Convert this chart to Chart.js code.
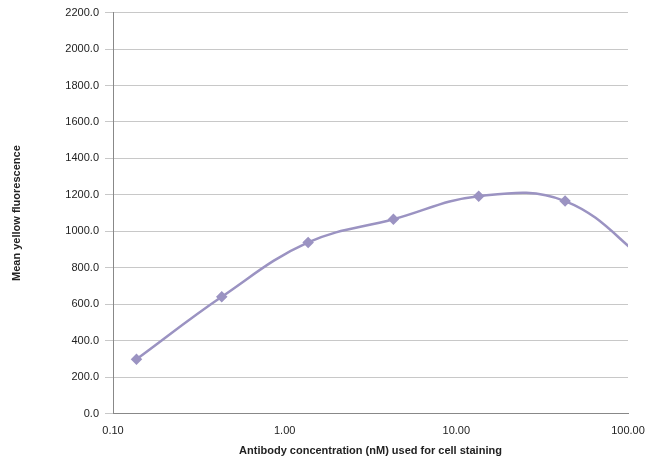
<!DOCTYPE html>
<html><head><meta charset="utf-8">
<script src="https://cdn.jsdelivr.net/npm/chart.js@4/dist/chart.umd.min.js"></script>
<style>html,body{margin:0;padding:0;background:#fff}#w{width:650px;height:462px}</style>
</head><body><div id="w"><canvas id="c"></canvas></div>
<script>
const concentrations = [0.137, 0.43, 1.37, 4.3, 13.5, 43, 135];
const fluorescence = [298, 641, 939, 1066, 1193, 1166, 820];
const markerSizes = [4, 4, 4, 4, 4, 4, 0];
const xTicks = [0.1, 1, 10, 100];
new Chart(document.getElementById('c'), {
  type: 'line',
  data: { datasets: [{
    data: concentrations.map((x, i) => ({x, y: fluorescence[i]})),
    borderColor: '#9b93c2', backgroundColor: '#9b93c2', borderWidth: 2.5,
    tension: 0.4, pointStyle: 'rectRot', pointRadius: markerSizes, pointHoverRadius: 0
  }]},
  options: {
    animation: false, responsive: true, maintainAspectRatio: false,
    layout: { padding: { top: 8, right: 22, left: 6, bottom: 0 } },
    plugins: { legend: { display: false }, tooltip: { enabled: false } },
    scales: {
      x: { type: 'logarithmic', min: 0.1, max: 100,
        afterBuildTicks: a => { a.ticks = xTicks.map(v => ({value: v})); },
        ticks: { callback: v => Number(v).toFixed(2), color: '#222', font: { family: 'Liberation Sans', size: 11 }, maxRotation: 0 },
        grid: { display: false, drawTicks: true }, border: { color: '#888' },
        title: { display: true, text: 'Antibody concentration (nM) used for cell staining', color: '#222', font: { family: 'Liberation Sans', size: 11, weight: 'bold' } } },
      y: { min: 0, max: 2200,
        afterFit: s => { s.width = 107; },
        ticks: { stepSize: 200, padding: 6, callback: v => Number(v).toFixed(1), color: '#222', font: { family: 'Liberation Sans', size: 11 } },
        grid: { color: '#c8c8c8' }, border: { color: '#888' },
        title: { display: true, text: 'Mean yellow fluorescence', color: '#222', font: { family: 'Liberation Sans', size: 11, weight: 'bold' } } }
    }
  }
});
</script></body></html>
